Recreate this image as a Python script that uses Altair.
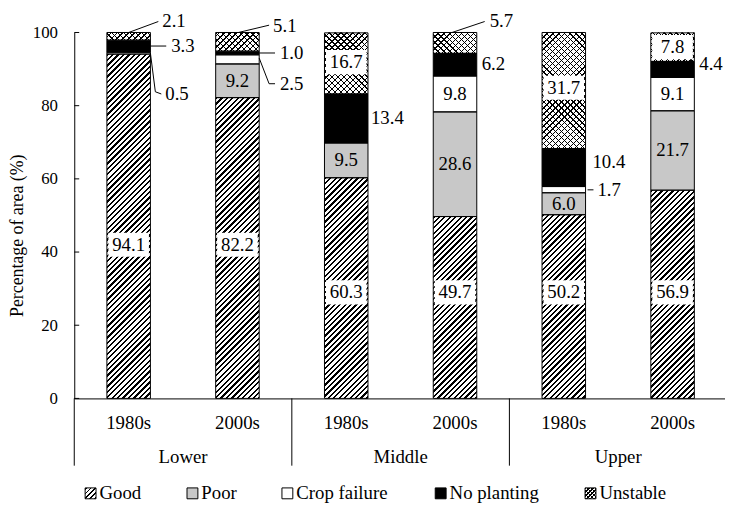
import altair as alt
import pandas as pd

# ---------------- data ----------------
groups = ["Lower", "Middle", "Upper"]
periods = ["1980s", "2000s"]
categories = ["Good", "Poor", "Crop failure", "No planting", "Unstable"]

good = [94.1, 82.2, 60.3, 49.7, 50.2, 56.9]
poor = [0.0, 9.2, 9.5, 28.6, 6.0, 21.7]
crop_failure = [0.5, 2.5, 0.0, 9.8, 1.7, 9.1]
no_planting = [3.3, 1.0, 13.4, 6.2, 10.4, 4.4]
unstable = [2.1, 5.1, 16.7, 5.7, 31.7, 7.8]

y_ticks = [0, 20, 40, 60, 80, 100]

# ---------------- layout / style ----------------
FONT = "Liberation Serif"
PLOT_W, PLOT_H = 658, 370
STEP = 110.0          # px per bar slot
BAR_W = 44.0          # px
HALF = BAR_W / 2 / STEP
PX = 1.0 / STEP       # one pixel in x data units

fills = ["white", "#c8c8c8", "white", "black", "white"]

# label heights (value units) for labels written on patterned segments
good_label_y = [42.0, 42.0, 29.0, 29.0, 29.0, 29.0]
unstable_label_y = {2: 91.9, 4: 84.9, 5: 96.0}

# outside labels: bar, category, label dx (px from bar right edge), label y, leader [(dx px, y)]
outside_labels = [
    (0, "Unstable", 12, 103.0, [(-22, 100.0), (8, 103.0)]),
    (0, "No planting", 21, 96.3, [(0, 96.3), (16, 96.3)]),
    (0, "Crop failure", 15, 83.2, [(0, 94.35), (5, 83.8), (11, 83.2)]),
    (1, "Unstable", 14, 101.8, [(-21, 100.0), (10, 102.0)]),
    (1, "No planting", 21, 94.4, [(0, 94.4), (16, 94.4)]),
    (1, "Crop failure", 21, 86.0, [(0, 93.0), (10, 86.0), (16, 86.0)]),
    (2, "No planting", 3, 76.5, []),
    (3, "No planting", 5, 91.4, []),
    (3, "Unstable", 13, 103.0, [(-25, 100.0), (8, 103.0)]),
    (4, "No planting", 7, 64.6, []),
    (4, "Crop failure", 12, 57.0, [(2, 57.0), (8, 57.0)]),
    (5, "No planting", 5, 91.4, []),
]

legend_sym_px = [16.5, 119.5, 215.5, 370.5, 522.0]


def stripes(w, h, period, lw, bg, fg, direction):
    W = w + h
    k = W / (w * w + h * h)
    if direction == "/":
        x1, y1, x2, y2 = 0.0, 0.0, k * w, k * h
    else:
        x1, y1, x2, y2 = 0.0, 1.0, k * w, 1.0 - k * h
    stops = []
    pos = 0.0
    while pos < W:
        a = round(pos / W, 5)
        b = round(min((pos + lw) / W, 1.0), 5)
        stops += [{"offset": a, "color": bg}, {"offset": a, "color": fg},
                  {"offset": b, "color": fg}, {"offset": b, "color": bg}]
        pos += period
    return {"gradient": "linear", "x1": x1, "y1": y1, "x2": round(x2, 6),
            "y2": round(y2, 6), "stops": stops}


CLEAR = "rgba(0,0,0,0)"
hatch_bar = stripes(BAR_W, PLOT_H, 5.5, 2.3, "white", "black", "/")
cross_a_bar = stripes(BAR_W, PLOT_H, 6.0, 1.4, "white", "black", "/")
cross_b_bar = stripes(BAR_W, PLOT_H, 6.0, 1.4, CLEAR, "black", "\\")
hatch_leg = stripes(11, 11, 5.0, 2.0, "white", "black", "/")
cross_a_leg = stripes(11, 11, 4.0, 1.2, "white", "black", "/")
cross_b_leg = stripes(11, 11, 4.0, 1.2, CLEAR, "black", "\\")

# ---------------- tables ----------------
series = [good, poor, crop_failure, no_planting, unstable]
rows = []
for i in range(6):
    base = 0.0
    for c, vals in zip(categories, series):
        v = vals[i]
        if v > 0:
            rows.append(dict(bar=i, group=groups[i // 2], period=periods[i % 2],
                             category=c, value=v, y0=base, y1=base + v,
                             x0=i - HALF, x1=i + HALF, label=f"{v:.1f}"))
        base += v
seg = pd.DataFrame(rows)

good_df = seg[seg.category == "Good"].copy()
good_df["h0"] = good_df["y1"] - 100
good_df["h1"] = good_df["y1"]
uns_df = seg[seg.category == "Unstable"].copy()
uns_df["h0"] = uns_df["y0"]
uns_df["h1"] = uns_df["y0"] + 100

inside_rows, box_rows = [], []
for r in seg.itertuples():
    if r.category != "No planting" and r.value >= 6:
        if r.category == "Good":
            ly = good_label_y[r.bar]
        elif r.category == "Unstable":
            ly = unstable_label_y[r.bar]
        else:
            ly = (r.y0 + r.y1) / 2
        inside_rows.append(dict(lx=r.bar, ly=ly, label=r.label))
        if r.category in ("Good", "Unstable"):
            box_rows.append(dict(bx0=r.bar - HALF + 1.5 * PX, bx1=r.bar + HALF - 1.5 * PX,
                                 by0=ly - 3.3, by1=ly + 3.3))
inside_df = pd.DataFrame(inside_rows)
box_df = pd.DataFrame(box_rows)

out_rows, lead_rows = [], []
for k, (b, c, dx, ly, pts) in enumerate(outside_labels):
    v = series[categories.index(c)][b]
    edge = b + HALF
    out_rows.append(dict(lx=edge + dx * PX, ly=ly, label=f"{v:.1f}"))
    for s, (pdx, py) in enumerate(pts):
        lead_rows.append(dict(id=k, seq=s, lx=edge + pdx * PX, ly=py))
out_df = pd.DataFrame(out_rows)
lead_df = pd.DataFrame(lead_rows)

tick_df = pd.DataFrame({"t": y_ticks, "tx0": -0.5, "tx1": -0.5 + 5 * PX})
sep_df = pd.DataFrame({"sx": [2 * g - 0.5 for g in range(len(groups))]})
period_df = pd.DataFrame({"px": list(range(6)), "label": [periods[i % 2] for i in range(6)]})
group_df = pd.DataFrame({"gx": [2 * g + 0.5 for g in range(len(groups))], "label": groups})
leg_df = pd.DataFrame({"category": categories,
                       "sx": [-0.5 + p * PX for p in legend_sym_px],
                       "tx": [-0.5 + (p + 9) * PX for p in legend_sym_px]})

# ---------------- scales / axes ----------------
xs = alt.Scale(domain=[-0.5, -0.5 + PLOT_W / STEP], nice=False, zero=False)
ys = alt.Scale(domain=[0, 100], nice=False, zero=False)
fs = alt.Scale(domain=categories, range=fills)

x_axis = alt.Axis(labels=False, ticks=False, grid=False, title=None,
                  domainColor="black", domainWidth=1)
y_axis = alt.Axis(values=y_ticks, title="Percentage of area (%)", ticks=False,
                  tickSize=0, labelPadding=17, labelFontSize=17, grid=False,
                  domainColor="black", domainWidth=1, titleFontSize=18,
                  titleAngle=270, titleX=-57, titleY=205, titleAlign="center",
                  titleBaseline="middle")


def X(f):
    return alt.X(f, scale=xs, axis=x_axis)


def Y(f):
    return alt.Y(f, scale=ys, axis=y_axis)


base = alt.Chart(seg).mark_rect().encode(
    x=X("x0:Q"), x2="x1:Q", y=Y("y0:Q"), y2="y1:Q",
    fill=alt.Fill("category:N", scale=fs, legend=None),
)

hatch = alt.Chart(good_df).mark_rect(clip=True, fill=hatch_bar).encode(
    x=X("x0:Q"), x2="x1:Q", y=Y("h0:Q"), y2="h1:Q")
cross_a = alt.Chart(uns_df).mark_rect(clip=True, fill=cross_a_bar).encode(
    x=X("x0:Q"), x2="x1:Q", y=Y("h0:Q"), y2="h1:Q")
cross_b = alt.Chart(uns_df).mark_rect(clip=True, fill=cross_b_bar).encode(
    x=X("x0:Q"), x2="x1:Q", y=Y("h0:Q"), y2="h1:Q")

outline = alt.Chart(seg).mark_rect(filled=False, stroke="black", strokeWidth=1).encode(
    x=X("x0:Q"), x2="x1:Q", y=Y("y0:Q"), y2="y1:Q")

boxes = alt.Chart(box_df).mark_rect(fill="white").encode(
    x=X("bx0:Q"), x2="bx1:Q", y=Y("by0:Q"), y2="by1:Q")

txt = dict(font=FONT, fontSize=19, color="black", baseline="middle")
inside = alt.Chart(inside_df).mark_text(align="center", **txt).encode(
    x=X("lx:Q"), y=Y("ly:Q"), text="label:N")
outside = alt.Chart(out_df).mark_text(align="left", **txt).encode(
    x=X("lx:Q"), y=Y("ly:Q"), text="label:N")
leaders = alt.Chart(lead_df).mark_line(color="black", strokeWidth=1).encode(
    x=X("lx:Q"), y=Y("ly:Q"), detail="id:N", order=alt.Order("seq:Q"))

ticks = alt.Chart(tick_df).mark_rule(color="black", strokeWidth=1).encode(
    x=X("tx0:Q"), x2="tx1:Q", y=Y("t:Q"))
seps = alt.Chart(sep_df).mark_rule(color="black", strokeWidth=1).encode(
    x=X("sx:Q"), y=alt.value(PLOT_H), y2=alt.value(PLOT_H + 68))
period_lbl = alt.Chart(period_df).mark_text(align="center", **txt).encode(
    x=X("px:Q"), y=alt.value(395), text="label:N")
group_lbl = alt.Chart(group_df).mark_text(align="center", **txt).encode(
    x=X("gx:Q"), y=alt.value(429), text="label:N")

LEG_Y = 466
leg_fill = alt.Chart(leg_df).mark_square(size=121, filled=True, opacity=1).encode(
    x=X("sx:Q"), y=alt.value(LEG_Y), fill=alt.Fill("category:N", scale=fs, legend=None))
leg_hatch = alt.Chart(leg_df[leg_df.category == "Good"]).mark_square(
    size=121, filled=True, opacity=1, fill=hatch_leg).encode(x=X("sx:Q"), y=alt.value(LEG_Y))
leg_ca = alt.Chart(leg_df[leg_df.category == "Unstable"]).mark_square(
    size=121, filled=True, opacity=1, fill=cross_a_leg).encode(x=X("sx:Q"), y=alt.value(LEG_Y))
leg_cb = alt.Chart(leg_df[leg_df.category == "Unstable"]).mark_square(
    size=121, filled=True, opacity=1, fill=cross_b_leg).encode(x=X("sx:Q"), y=alt.value(LEG_Y))
leg_out = alt.Chart(leg_df).mark_square(size=121, filled=False, stroke="black",
                                         strokeWidth=1, opacity=1).encode(
    x=X("sx:Q"), y=alt.value(LEG_Y))
leg_txt = alt.Chart(leg_df).mark_text(align="left", **txt).encode(
    x=X("tx:Q"), y=alt.value(LEG_Y), text="category:N")

chart = alt.layer(
    base, hatch, cross_a, cross_b, outline, boxes, inside, outside, leaders,
    ticks, seps, period_lbl, group_lbl,
    leg_fill, leg_hatch, leg_ca, leg_cb, leg_out, leg_txt,
).properties(
    width=PLOT_W, height=PLOT_H,
    padding={"left": 67, "top": 22, "right": 0, "bottom": 105},
    autosize=alt.AutoSizeParams(type="none"),
    background="white",
).configure_view(stroke=None).configure_axis(
    labelFont=FONT, titleFont=FONT, labelColor="black", titleColor="black",
    titleFontWeight="normal",
)

chart.save("out.html", embed_options={"renderer": "svg", "actions": False})
